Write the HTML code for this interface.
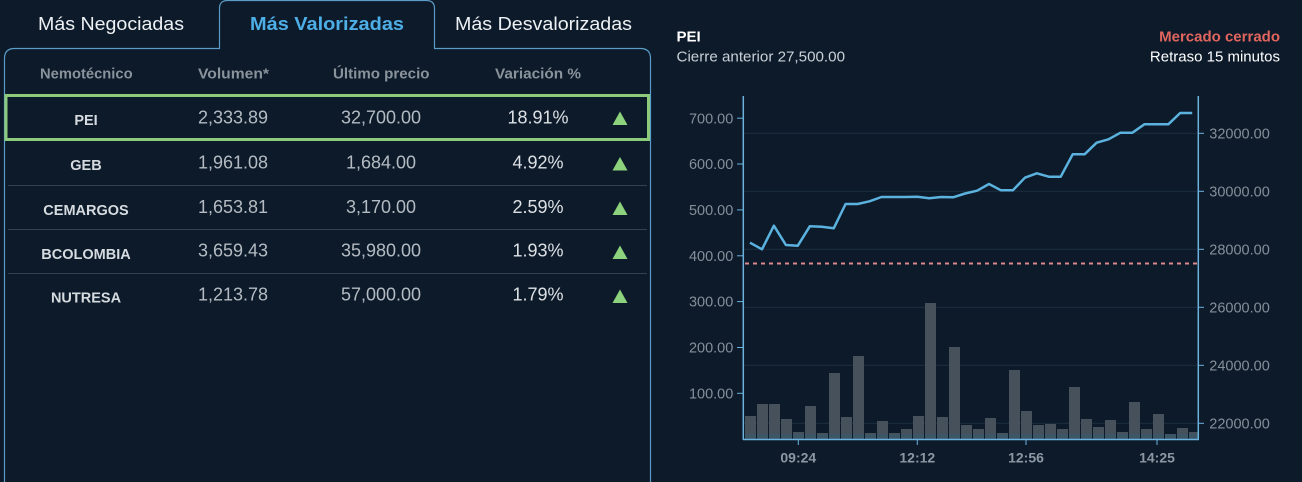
<!DOCTYPE html>
<html>
<head>
<meta charset="utf-8">
<style>
html,body{margin:0;padding:0;background:#0c1a2a;}
body{width:1302px;height:482px;overflow:hidden;}
svg{display:block;}
text{font-family:"Liberation Sans",sans-serif;}
</style>
</head>
<body>
<svg width="1302" height="482" viewBox="0 0 1302 482" xmlns="http://www.w3.org/2000/svg">
<rect x="0" y="0" width="1302" height="482" fill="#0c1a2a"/>

<!-- Left panel border with active tab -->
<path d="M4.5,482 L4.5,58.5 Q4.5,48.5 14.5,48.5 L219.5,48.5 L219.5,8.5 Q219.5,0.5 227.5,0.5 L426.5,0.5 Q434.5,0.5 434.5,8.5 L434.5,48.5 L640.5,48.5 Q650.5,48.5 650.5,58.5 L650.5,482" fill="none" stroke="#5b9cc6" stroke-width="1.2"/>

<!-- Tabs -->
<text x="38" y="30" font-size="18" fill="#eef1f4" textLength="146" lengthAdjust="spacingAndGlyphs">Más Negociadas</text>
<text x="250" y="30" font-size="18" font-weight="bold" fill="#4eaee6" textLength="154" lengthAdjust="spacingAndGlyphs">Más Valorizadas</text>
<text x="455" y="30" font-size="18" fill="#eef1f4" textLength="177" lengthAdjust="spacingAndGlyphs">Más Desvalorizadas</text>

<!-- Table header -->
<g font-size="14.5" font-weight="bold" fill="#8a939b">
<text x="40" y="78.5" textLength="92.6" lengthAdjust="spacingAndGlyphs">Nemotécnico</text>
<text x="198" y="78.5" textLength="71" lengthAdjust="spacingAndGlyphs">Volumen*</text>
<text x="333" y="78.5" textLength="96.5" lengthAdjust="spacingAndGlyphs">Último precio</text>
<text x="495" y="78.5" textLength="86" lengthAdjust="spacingAndGlyphs">Variación %</text>
</g>

<!-- Selected row -->
<rect x="6" y="95.5" width="642.5" height="44" fill="none" stroke="#8dcb7c" stroke-width="3"/>

<!-- Dividers -->
<g stroke="#34424f" stroke-width="1">
<line x1="8" y1="185.5" x2="647" y2="185.5"/>
<line x1="8" y1="229.5" x2="647" y2="229.5"/>
<line x1="8" y1="273.5" x2="647" y2="273.5"/>
</g>

<!-- Names -->
<g font-size="14.5" font-weight="bold" fill="#d6dbe0" text-anchor="middle">
<text x="86" y="125">PEI</text>
<text x="86" y="170">GEB</text>
<text x="86" y="215">CEMARGOS</text>
<text x="86" y="259">BCOLOMBIA</text>
<text x="86" y="302.7">NUTRESA</text>
</g>

<!-- Volumes -->
<g font-size="18" fill="#b4bbc2" text-anchor="middle">
<text x="233" y="123.5">2,333.89</text>
<text x="233" y="168.3">1,961.08</text>
<text x="233" y="213">1,653.81</text>
<text x="233" y="256.7">3,659.43</text>
<text x="233" y="300.7">1,213.78</text>
</g>
<!-- Prices -->
<g font-size="18" fill="#b4bbc2" text-anchor="middle">
<text x="381" y="123.5">32,700.00</text>
<text x="381" y="168.3">1,684.00</text>
<text x="381" y="213">3,170.00</text>
<text x="381" y="256.7">35,980.00</text>
<text x="381" y="300.7">57,000.00</text>
</g>
<!-- Variation -->
<g font-size="18" fill="#dde1e5" text-anchor="middle">
<text x="538" y="123.5">18.91%</text>
<text x="538" y="168.3">4.92%</text>
<text x="538" y="213">2.59%</text>
<text x="538" y="256.7">1.93%</text>
<text x="538" y="300.7">1.79%</text>
</g>
<!-- Triangles -->
<g fill="#8dd27c">
<polygon points="612.5,125 627.5,125 620,111.5"/>
<polygon points="612.5,170.5 627.5,170.5 620,157"/>
<polygon points="612.5,215 627.5,215 620,201.5"/>
<polygon points="612.5,259 627.5,259 620,245.5"/>
<polygon points="612.5,303 627.5,303 620,289.5"/>
</g>

<!-- Chart header -->
<text x="676.5" y="41.7" font-size="15" font-weight="bold" fill="#ffffff">PEI</text>
<text x="676.5" y="61.5" font-size="15" fill="#c9d0d6" textLength="168.5" lengthAdjust="spacingAndGlyphs">Cierre anterior 27,500.00</text>
<text x="1280" y="41.7" font-size="15" font-weight="bold" fill="#e2665e" text-anchor="end">Mercado cerrado</text>
<text x="1280" y="61.5" font-size="15" fill="#ffffff" text-anchor="end">Retraso 15 minutos</text>

<!-- Gridlines -->
<g stroke="#1c2e40" stroke-width="1">
<line x1="744" y1="133.3" x2="1198" y2="133.3"/>
<line x1="744" y1="191.3" x2="1198" y2="191.3"/>
<line x1="744" y1="249.3" x2="1198" y2="249.3"/>
<line x1="744" y1="307.3" x2="1198" y2="307.3"/>
<line x1="744" y1="365.3" x2="1198" y2="365.3"/>
<line x1="744" y1="423.3" x2="1198" y2="423.3"/>
</g>

<!-- Bars -->
<g fill="#47515b">
<rect x="745" y="416" width="11" height="23"/>
<rect x="757" y="404" width="11" height="35"/>
<rect x="769" y="404" width="11" height="35"/>
<rect x="781" y="419" width="11" height="20"/>
<rect x="793" y="432" width="11" height="7"/>
<rect x="805" y="406" width="11" height="33"/>
<rect x="817" y="433" width="11" height="6"/>
<rect x="829" y="373" width="11" height="66"/>
<rect x="841" y="417" width="11" height="22"/>
<rect x="853" y="356" width="11" height="83"/>
<rect x="865" y="433" width="11" height="6"/>
<rect x="877" y="421" width="11" height="18"/>
<rect x="889" y="433" width="11" height="6"/>
<rect x="901" y="429" width="11" height="10"/>
<rect x="913" y="416" width="11" height="23"/>
<rect x="925" y="303" width="11" height="136"/>
<rect x="937" y="417" width="11" height="22"/>
<rect x="949" y="347" width="11" height="92"/>
<rect x="961" y="425" width="11" height="14"/>
<rect x="973" y="429" width="11" height="10"/>
<rect x="985" y="418" width="11" height="21"/>
<rect x="997" y="433" width="11" height="6"/>
<rect x="1009" y="370" width="11" height="69"/>
<rect x="1021" y="411" width="11" height="28"/>
<rect x="1033" y="425" width="11" height="14"/>
<rect x="1045" y="424" width="11" height="15"/>
<rect x="1057" y="429" width="11" height="10"/>
<rect x="1069" y="387" width="11" height="52"/>
<rect x="1081" y="419" width="11" height="20"/>
<rect x="1093" y="427" width="11" height="12"/>
<rect x="1105" y="420" width="11" height="19"/>
<rect x="1117" y="432" width="11" height="7"/>
<rect x="1129" y="402" width="11" height="37"/>
<rect x="1141" y="429" width="11" height="10"/>
<rect x="1153" y="414" width="11" height="25"/>
<rect x="1165" y="434" width="11" height="5"/>
<rect x="1177" y="428" width="11" height="11"/>
<rect x="1189" y="432" width="9" height="7"/>
</g>
<!-- bar bottom tint -->
<g fill="#3c5666">
<rect x="745" y="434" width="11" height="5"/><rect x="757" y="434" width="11" height="5"/><rect x="769" y="434" width="11" height="5"/><rect x="781" y="434" width="11" height="5"/><rect x="793" y="434" width="11" height="5"/><rect x="805" y="434" width="11" height="5"/><rect x="817" y="434" width="11" height="5"/><rect x="829" y="434" width="11" height="5"/><rect x="841" y="434" width="11" height="5"/><rect x="853" y="434" width="11" height="5"/><rect x="865" y="434" width="11" height="5"/><rect x="877" y="434" width="11" height="5"/><rect x="889" y="434" width="11" height="5"/><rect x="901" y="434" width="11" height="5"/><rect x="913" y="434" width="11" height="5"/><rect x="925" y="434" width="11" height="5"/><rect x="937" y="434" width="11" height="5"/><rect x="949" y="434" width="11" height="5"/><rect x="961" y="434" width="11" height="5"/><rect x="973" y="434" width="11" height="5"/><rect x="985" y="434" width="11" height="5"/><rect x="997" y="434" width="11" height="5"/><rect x="1009" y="434" width="11" height="5"/><rect x="1021" y="434" width="11" height="5"/><rect x="1033" y="434" width="11" height="5"/><rect x="1045" y="434" width="11" height="5"/><rect x="1057" y="434" width="11" height="5"/><rect x="1069" y="434" width="11" height="5"/><rect x="1081" y="434" width="11" height="5"/><rect x="1093" y="434" width="11" height="5"/><rect x="1105" y="434" width="11" height="5"/><rect x="1117" y="434" width="11" height="5"/><rect x="1129" y="434" width="11" height="5"/><rect x="1141" y="434" width="11" height="5"/><rect x="1153" y="434" width="11" height="5"/><rect x="1165" y="434" width="11" height="5"/><rect x="1177" y="434" width="11" height="5"/><rect x="1189" y="434" width="9" height="5"/>
</g>

<!-- Previous close dashed line -->
<line x1="745" y1="263.5" x2="1198" y2="263.5" stroke="#de878b" stroke-width="2" stroke-dasharray="4,4"/>

<!-- Price line -->
<polyline fill="none" stroke="#5bb2de" stroke-width="2.5" stroke-linejoin="round" points="750,242.7 762,249.3 773.9,225.7 785.9,245 797.8,245.7 809.8,226.3 821.7,226.7 833.7,228.3 845.6,204 857.6,204 869.5,201.3 881.5,197 893.4,197 905.4,197 917.3,196.7 929.3,198.3 941.2,197 953.2,197.3 965.1,193.5 977.1,190.7 989,184 1001,190.3 1012.9,190.3 1024.9,177.7 1036.8,173.3 1048.8,176.7 1060.7,176.7 1072.7,154.3 1084.6,154.3 1096.6,142.7 1108.5,139.3 1120.5,132.7 1132.4,132.7 1144.4,124.3 1156.3,124.3 1168.3,124.3 1180.2,113 1192.2,113"/>

<!-- Axes -->
<g stroke="#6cb2de" stroke-width="1.5" fill="none">
<line x1="743.3" y1="96" x2="743.3" y2="440"/>
<line x1="1198.3" y1="96" x2="1198.3" y2="440"/>
<line x1="743" y1="439.5" x2="1199" y2="439.5"/>
</g>
<g stroke="#6cb2de" stroke-width="1">
<line x1="737" y1="118.2" x2="743" y2="118.2"/>
<line x1="737" y1="164" x2="743" y2="164"/>
<line x1="737" y1="209.9" x2="743" y2="209.9"/>
<line x1="737" y1="255.8" x2="743" y2="255.8"/>
<line x1="737" y1="301.6" x2="743" y2="301.6"/>
<line x1="737" y1="347.5" x2="743" y2="347.5"/>
<line x1="737" y1="393.3" x2="743" y2="393.3"/>
<line x1="1198" y1="133.3" x2="1204" y2="133.3"/>
<line x1="1198" y1="191.3" x2="1204" y2="191.3"/>
<line x1="1198" y1="249.3" x2="1204" y2="249.3"/>
<line x1="1198" y1="307.3" x2="1204" y2="307.3"/>
<line x1="1198" y1="365.3" x2="1204" y2="365.3"/>
<line x1="1198" y1="423.3" x2="1204" y2="423.3"/>
<line x1="798.3" y1="439.5" x2="798.3" y2="445"/>
<line x1="917.3" y1="439.5" x2="917.3" y2="445"/>
<line x1="1026" y1="439.5" x2="1026" y2="445"/>
<line x1="1157" y1="439.5" x2="1157" y2="445"/>
</g>

<!-- Left axis labels -->
<g font-size="14.5" fill="#858f99" text-anchor="end">
<text x="733.3" y="123.3">700.00</text>
<text x="733.3" y="169.1">600.00</text>
<text x="733.3" y="215">500.00</text>
<text x="733.3" y="260.9">400.00</text>
<text x="733.3" y="306.7">300.00</text>
<text x="733.3" y="352.6">200.00</text>
<text x="733.3" y="398.4">100.00</text>
</g>
<!-- Right axis labels -->
<g font-size="14.5" fill="#858f99">
<text x="1209.3" y="138.5">32000.00</text>
<text x="1209.3" y="196.5">30000.00</text>
<text x="1209.3" y="254.5">28000.00</text>
<text x="1209.3" y="312.5">26000.00</text>
<text x="1209.3" y="370.5">24000.00</text>
<text x="1209.3" y="428.5">22000.00</text>
</g>
<!-- X labels -->
<g font-size="14" font-weight="bold" fill="#8c97a2" text-anchor="middle">
<text x="798.3" y="462.7">09:24</text>
<text x="917.3" y="462.7">12:12</text>
<text x="1026" y="462.7">12:56</text>
<text x="1157" y="462.7">14:25</text>
</g>
</svg>
</body>
</html>
